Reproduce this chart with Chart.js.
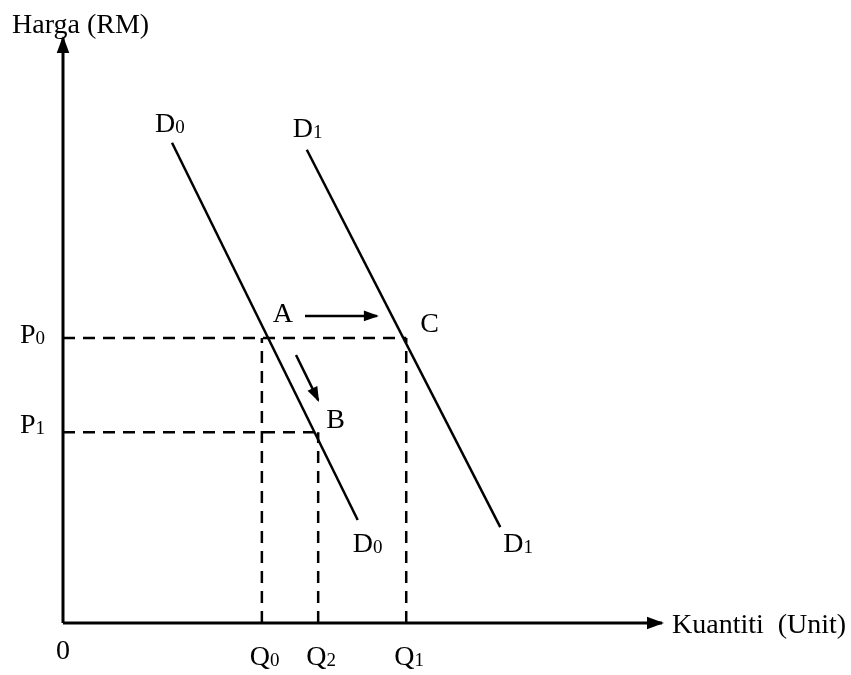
<!DOCTYPE html>
<html>
<head>
<meta charset="utf-8">
<script src="https://cdn.jsdelivr.net/npm/chart.js@4"></script>
<style>
    html, body { margin: 0; padding: 0; background: #ffffff; }
    #wrap { width: 851px; height: 675px; }
</style>
</head>
<body>
<div id="wrap"><canvas id="demandChart" width="851" height="675"></canvas></div>
<script>
// Values (arbitrary units, 0..100 on both axes)
const axisMaxX = 100;
const axisMaxY = 100;

const quantityLabels = ['Q0', 'Q2', 'Q1'];
const quantityValues = [33.2, 42.6, 57.3];

const priceLabels = ['P0', 'P1'];
const priceValues = [48.7, 32.6];

const demandD0 = [{ x: 18.2, y: 82.1 }, { x: 49.2, y: 17.6 }];
const demandD1 = [{ x: 40.7, y: 80.9 }, { x: 73.0, y: 16.4 }];

// A -> C (shift of demand) and A -> B (movement along D0)
const shiftArrow = [{ x: 40.4, y: 52.5 }, { x: 52.4, y: 52.5 }];
const moveArrow = [{ x: 38.9, y: 45.8 }, { x: 42.6, y: 38.1 }];

const axisTitleY = 'Harga (RM)';
const axisTitleX = 'Kuantiti  (Unit)';

const FONT = '"Liberation Serif", "Times New Roman", serif';
const MAIN_SIZE = 28;
const SUB_SIZE = 19;

function line(points, opts) {
    return Object.assign({
        data: points,
        showLine: true,
        borderColor: '#000',
        borderWidth: 2.5,
        pointRadius: 0,
        fill: false,
        clip: false
    }, opts || {});
}

// dashed guide lines from the axes to the points
const guides = [
    line([{ x: 0, y: priceValues[0] }, { x: quantityValues[2], y: priceValues[0] }], { borderDash: [12, 8] }),
    line([{ x: 0, y: priceValues[1] }, { x: quantityValues[1], y: priceValues[1] }], { borderDash: [12, 8] }),
    line([{ x: quantityValues[0], y: 0 }, { x: quantityValues[0], y: priceValues[0] }], { borderDash: [12, 8] }),
    line([{ x: quantityValues[1], y: 0 }, { x: quantityValues[1], y: priceValues[1] }], { borderDash: [12, 8] }),
    line([{ x: quantityValues[2], y: 0 }, { x: quantityValues[2], y: priceValues[0] }], { borderDash: [12, 8] })
];

const datasets = guides.concat([
    line(demandD0),
    line(demandD1),
    line(shiftArrow, { arrow: 13 }),
    line(moveArrow, { arrow: 13 }),
    line([{ x: 0, y: 0 }, { x: axisMaxX, y: 0 }], { borderWidth: 3, arrow: 15 }),
    line([{ x: 0, y: 0 }, { x: 0, y: axisMaxY }], { borderWidth: 3, arrow: 15 })
]);

// letter with a smaller digit after it (D0, Q1, P0 ...)
function drawSub(ctx, main, sub, x, y) {
    ctx.textAlign = 'left';
    ctx.textBaseline = 'alphabetic';
    ctx.font = MAIN_SIZE + 'px ' + FONT;
    const w1 = ctx.measureText(main).width;
    ctx.fillText(main, x, y);
    ctx.font = SUB_SIZE + 'px ' + FONT;
    ctx.fillText(sub, x + w1, y + 1);
}

const arrowHeads = {
    id: 'arrowHeads',
    afterDatasetsDraw(chart) {
        const ctx = chart.ctx;
        const sx = chart.scales.x, sy = chart.scales.y;
        chart.data.datasets.forEach(ds => {
            if (!ds.arrow) return;
            const a = ds.data[ds.data.length - 2], b = ds.data[ds.data.length - 1];
            const x1 = sx.getPixelForValue(a.x), y1 = sy.getPixelForValue(a.y);
            const x2 = sx.getPixelForValue(b.x), y2 = sy.getPixelForValue(b.y);
            const ang = Math.atan2(y2 - y1, x2 - x1);
            const len = ds.arrow, half = ds.arrow * 0.42;
            ctx.save();
            ctx.fillStyle = '#000';
            ctx.beginPath();
            ctx.moveTo(x2 + Math.cos(ang) * 2, y2 + Math.sin(ang) * 2);
            ctx.lineTo(x2 - Math.cos(ang) * len - Math.sin(ang) * half, y2 - Math.sin(ang) * len + Math.cos(ang) * half);
            ctx.lineTo(x2 - Math.cos(ang) * len + Math.sin(ang) * half, y2 - Math.sin(ang) * len - Math.cos(ang) * half);
            ctx.closePath();
            ctx.fill();
            ctx.restore();
        });
    }
};

const textLabels = {
    id: 'textLabels',
    afterDraw(chart) {
        const ctx = chart.ctx;
        const sx = chart.scales.x, sy = chart.scales.y;
        const px = v => sx.getPixelForValue(v);
        const py = v => sy.getPixelForValue(v);
        ctx.save();
        ctx.fillStyle = '#000';

        // axis titles
        ctx.font = MAIN_SIZE + 'px ' + FONT;
        ctx.textAlign = 'left';
        ctx.textBaseline = 'alphabetic';
        ctx.fillText(axisTitleY, 12, 33);
        ctx.fillText(axisTitleX, px(axisMaxX) + 10, py(0) + 10);

        // origin
        ctx.textAlign = 'center';
        ctx.fillText('0', px(0), py(0) + 36);

        // quantity ticks
        quantityLabels.forEach((lab, i) => {
            drawSub(ctx, lab[0], lab.slice(1), px(quantityValues[i]) - 12, py(0) + 42);
        });

        // price ticks
        priceLabels.forEach((lab, i) => {
            drawSub(ctx, lab[0], lab.slice(1), 20, py(priceValues[i]) + (i === 0 ? 5 : 1));
        });

        // curve labels
        drawSub(ctx, 'D', '0', px(demandD0[0].x) - 17, py(demandD0[0].y) - 11);
        drawSub(ctx, 'D', '1', px(demandD1[0].x) - 14, py(demandD1[0].y) - 13);
        drawSub(ctx, 'D', '0', px(demandD0[1].x) - 5, py(demandD0[1].y) + 32);
        drawSub(ctx, 'D', '1', px(demandD1[1].x) + 3, py(demandD1[1].y) + 25);

        // point labels
        ctx.font = MAIN_SIZE + 'px ' + FONT;
        ctx.textAlign = 'left';
        ctx.fillText('A', px(quantityValues[0]) + 11, py(priceValues[0]) - 16);
        ctx.fillText('C', px(quantityValues[2]) + 14, py(priceValues[0]) - 6);
        ctx.fillText('B', px(quantityValues[1]) + 8, py(priceValues[1]) - 4);
        ctx.restore();
    }
};

new Chart(document.getElementById('demandChart'), {
    type: 'scatter',
    data: { datasets: datasets },
    options: {
        responsive: false,
        animation: false,
        layout: { padding: { left: 63, right: 189, top: 38, bottom: 52 } },
        plugins: { legend: { display: false }, tooltip: { enabled: false } },
        scales: {
            x: { type: 'linear', min: 0, max: axisMaxX, display: false },
            y: { type: 'linear', min: 0, max: axisMaxY, display: false }
        }
    },
    plugins: [arrowHeads, textLabels]
});
</script>
</body>
</html>
